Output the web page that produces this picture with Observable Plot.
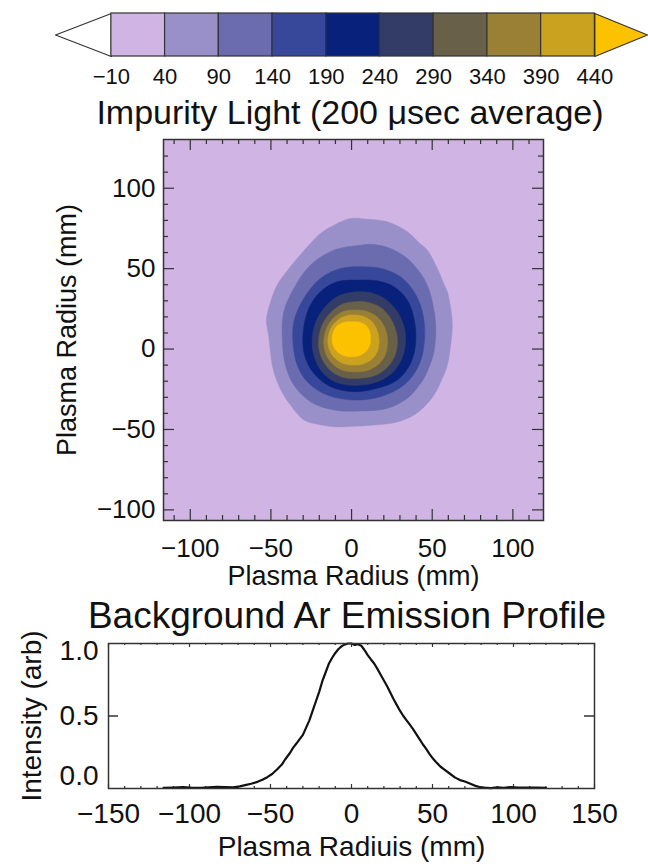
<!DOCTYPE html>
<html><head><meta charset="utf-8">
<script src="https://cdn.jsdelivr.net/npm/d3@7"></script>
<script src="https://cdn.jsdelivr.net/npm/@observablehq/plot@0.6"></script>
<style>
html,body{margin:0;padding:0;background:#fff;}
#root{position:relative;width:648px;height:867px;overflow:hidden;font-family:"Liberation Sans",Arial,Helvetica,sans-serif;color:#111;}
#root > div{position:absolute;}
.title{left:0;text-align:center;white-space:nowrap;}
</style></head>
<body><div id="root"></div>
<script>
// ---------- DATA ----------
const cbLevels = [-10, 40, 90, 140, 190, 240, 290, 340, 390, 440];
const bandColors = ["#d0b4e3", "#9a90c9", "#6b6cb0", "#37489a", "#08227b", "#333c66", "#686049", "#9a8034", "#caa21f", "#fcc200"];
const belowColor = "#ffffff";

// contour boundaries (mm), one polygon per threshold level
const contour40 = [[-0.6,81.2],[9.8,80.7],[22.2,79.1],[34.6,72.9],[42,66],[47,61.5],[53.2,50.1],[57.5,40],[59.4,35.6],[61.5,25],[62.5,14.9],[61.5,3],[59.4,-9.9],[55.5,-20],[51.1,-28.6],[45,-36],[38.7,-41],[31,-44.5],[24.2,-46.2],[9.8,-47.6],[-11,-48.3],[-22,-46.5],[-29.6,-44.1],[-37.9,-34.8],[-42.5,-28],[-46.1,-20.3],[-49,-11],[-50.3,-1.7],[-51.5,9],[-52.8,18],[-50,30],[-46.1,39.8],[-40,48.5],[-33.7,56.3],[-26.5,64.5],[-19.3,71.9],[-10,77.5]];
const contour90 = [[5.6,64.6],[13.9,65],[24.2,62.5],[34.6,56.3],[40.5,50],[44.9,43.9],[48,37],[50.1,29.4],[52.2,14.9],[51.1,-1.7],[48.5,-10],[44.9,-18.2],[40,-25],[34.6,-30.6],[22.2,-36.9],[5.6,-38.5],[-11,-37.9],[-25.5,-32.7],[-35.8,-22.4],[-41,-9.9],[-43,6.6],[-42,23.2],[-35.8,37.7],[-25.5,52.2],[-11,61.5]];
const contour140 = [[9.8,51.1],[20,49.7],[30.4,44.9],[38.7,35.6],[43.9,23.2],[45.3,6.6],[41.8,-9.9],[32.5,-22.4],[18,-29.6],[1.4,-31.7],[-15.1,-28.6],[-27.5,-20.3],[-33.7,-9.9],[-36.2,2.5],[-35.8,17],[-29.6,31.5],[-19.3,43.9],[-6.8,50.1]];
const contour190 = [[5.6,42.9],[16,42.4],[26.3,38.7],[34.6,30.4],[38.7,19.1],[39.8,4.5],[36.6,-8.9],[28.4,-19.3],[16,-24.4],[1.4,-26.5],[-13,-23.4],[-23.4,-15.1],[-29.2,-3.7],[-30,10.7],[-26.5,25.3],[-19.3,35.6],[-8.9,41.8]];
const contour240 = [[2,35.6],[12,35],[21,31],[28.5,23],[32.5,14],[33.5,5],[31.5,-5],[26.5,-13.5],[18,-19.5],[8,-22.2],[-2,-22.4],[-12,-19.5],[-19.5,-12.5],[-23.5,-3.5],[-24.4,6],[-22.5,16],[-17,25.5],[-9,32.5]];
const contour290 = [[2,29.4],[10.5,29],[18.5,25.5],[24.5,18.5],[27.8,10],[28.4,3],[26.5,-5],[22,-11.5],[14.5,-16.5],[5,-18.2],[-4,-17.8],[-11.5,-14.5],[-17,-8.5],[-20,-1],[-20.3,7],[-18,15.5],[-13,22.5],[-6,27.8]];
const contour340 = [[1,24.2],[8,23.8],[14.5,21],[19.5,15.5],[22,8.5],[22.2,2],[20.5,-4.5],[16,-10],[9,-13.5],[1,-14.1],[-6,-13],[-11.5,-9.5],[-15.5,-4],[-17.2,3],[-16.5,10],[-13.5,16.5],[-8.5,21.5],[-3.5,23.8]];
const contour390 = [[0.5,21.1],[6.5,20.6],[11.5,18],[15,13.5],[16.8,8],[17,3],[15.5,-2.5],[12,-6.8],[6.5,-9.4],[0.5,-9.9],[-5.5,-8.8],[-10.5,-5.5],[-13.5,-1],[-14.7,4.5],[-14,10],[-11.5,15],[-7,19],[-2.5,20.8]];
const contour440 = [[0,17],[5,16.6],[8.8,14.8],[11,11.5],[11.8,7],[11.2,2.2],[8.5,-1.8],[4.5,-4.2],[-0.5,-4.8],[-5,-4],[-9,-1.5],[-11.5,2.5],[-12,7],[-11,11.5],[-8.5,14.8],[-4.5,16.6]];

// background Ar emission profile
const profileX = [-116,-110,-104,-98,-93,-88,-83,-78,-73,-69,-65,-62,-58,-55,-52,-49,-46,-43,-41,-38,-36,-34,-32,-30,-28,-26,-24,-22,-20,-18,-16,-14,-12,-10,-8,-6,-4,-2,0,2,4,6,8,10,12,14,16,18,20,22,24,26,28,30,32,34,36,38,40,42,44,46,48,50,52,55,58,61,64,67,70,73,76,79,82,86,90,94,98,103,108,114,120];
const profileY = [0.004,0.006,0.009,0.005,0.004,0.008,0.011,0.009,0.008,0.015,0.025,0.033,0.046,0.06,0.078,0.1,0.131,0.165,0.2,0.245,0.282,0.31,0.34,0.37,0.42,0.47,0.535,0.6,0.665,0.74,0.8,0.86,0.9,0.935,0.962,0.982,0.994,1.0,1.0,0.99,0.995,0.985,0.955,0.92,0.89,0.862,0.825,0.785,0.745,0.705,0.66,0.615,0.575,0.535,0.5,0.47,0.44,0.41,0.375,0.34,0.305,0.275,0.24,0.21,0.185,0.15,0.125,0.1,0.075,0.058,0.048,0.035,0.02,0.01,0.006,0.003,0.008,0.005,0.009,0.007,0.006,0.007,0.005];

// tick labels
const mapTicks = [-100, -50, 0, 50, 100];
const profXTicks = [-150, -100, -50, 0, 50, 100, 150];
const profYTicks = [0, 0.5, 1.0];

const titleTop = "Impurity Light (200 \u03bcsec average)";
const titleBottom = "Background Ar Emission Profile";
const mapXLabel = "Plasma Radius (mm)";
const mapYLabel = "Plasma Radius (mm)";
const profXLabel = "Plasma Radiuis (mm)";
const profYLabel = "Intensity (arb)";

// ---------- RENDER ----------
const FONT = '"Liberation Sans", Arial, Helvetica, sans-serif';
const INK = "#333";
const root = document.getElementById("root");
function place(node, top, left = 0) {
  const d = document.createElement("div");
  d.style.top = top + "px"; d.style.left = left + "px";
  d.appendChild(node); root.appendChild(d); return d;
}
function addTitle(text, top, size, center) {
  const d = document.createElement("div");
  d.className = "title"; d.style.top = top + "px"; d.textContent = text;
  d.style.width = (2 * center) + "px";
  d.style.fontSize = size + "px"; d.style.lineHeight = size + "px";
  root.appendChild(d);
}
const baseStyle = {fontFamily: FONT, background: "transparent", color: "#111", overflow: "visible"};

// colorbar
{
  const cells = cbLevels.slice(0, -1).map((lo, i) => ({lo, hi: cbLevels[i + 1], color: bandColors[i]}));
  const lo = cbLevels[0], hi = cbLevels[cbLevels.length - 1];
  const leftTri = [{x: lo, y: 1}, {x: lo - 52, y: 0.5}, {x: lo, y: 0}];
  const rightTri = [{x: hi, y: 1}, {x: hi + 49, y: 0.5}, {x: hi, y: 0}];
  const svg = Plot.plot({
    width: 648, height: 92, marginTop: 13, marginBottom: 36, marginLeft: 55, marginRight: 1,
    x: {domain: [lo - 52, hi + 49], axis: null},
    y: {domain: [0, 1], axis: null},
    style: {...baseStyle, fontSize: "22px"},
    marks: [
      Plot.line(leftTri, {x: "x", y: "y", fill: belowColor, stroke: INK, strokeWidth: 1.2, curve: "linear-closed"}),
      Plot.line(rightTri, {x: "x", y: "y", fill: bandColors[9], stroke: INK, strokeWidth: 1.2, curve: "linear-closed"}),
      Plot.rect(cells, {x1: "lo", x2: "hi", y1: 0, y2: 1, fill: "color", stroke: INK, strokeWidth: 1.2}),
      Plot.axisX(cbLevels, {anchor: "bottom", tickSize: 0, tickPadding: 12, fontSize: 22, label: null})
    ]
  });
  place(svg, 0);
}

addTitle(titleTop, 95, 34, 350);

// contour map
{
  const xd = [-116.6, 119], yd = [-106.6, 130.3];
  const W = 648, H = 470, mT = 9, mB = 80, mL = 163, mR = 105;
  const kx = (xd[1] - xd[0]) / (W - mL - mR), ky = (yd[1] - yd[0]) / (H - mT - mB);
  const levels = [contour40, contour90, contour140, contour190, contour240, contour290, contour340, contour390, contour440];
  const polys = levels.map((pts, i) => Plot.line(pts, {x: d => d[0], y: d => d[1], fill: bandColors[i + 1], stroke: bandColors[i + 1], strokeWidth: 0.5, curve: "catmull-rom-closed"}));
  const minorX = d3.range(-110, 111, 10).filter(v => v % 50 !== 0);
  const minorY = d3.range(-100, 131, 10).filter(v => v % 50 !== 0 && v <= 120);
  const tickMarks = (vals, len) => [
    Plot.ruleX(vals, {x: d => d, y1: yd[0], y2: yd[0] + len * ky, stroke: INK, strokeWidth: 1.2}),
    Plot.ruleX(vals, {x: d => d, y1: yd[1], y2: yd[1] - len * ky, stroke: INK, strokeWidth: 1.2})
  ];
  const tickMarksY = (vals, len) => [
    Plot.ruleY(vals, {y: d => d, x1: xd[0], x2: xd[0] + len * kx, stroke: INK, strokeWidth: 1.2}),
    Plot.ruleY(vals, {y: d => d, x1: xd[1], x2: xd[1] - len * kx, stroke: INK, strokeWidth: 1.2})
  ];
  const svg = Plot.plot({
    width: W, height: H, marginTop: mT, marginBottom: mB, marginLeft: mL, marginRight: mR,
    x: {domain: xd, axis: null}, y: {domain: yd, axis: null},
    style: {...baseStyle, fontSize: "26px"},
    marks: [
      Plot.frame({fill: bandColors[0], stroke: "none"}),
      ...polys,
      ...tickMarks(mapTicks, 11), ...tickMarks(minorX, 5),
      ...tickMarksY(mapTicks, 11), ...tickMarksY(minorY, 5),
      Plot.frame({stroke: INK, strokeWidth: 1.5}),
      Plot.axisX(mapTicks, {anchor: "bottom", tickSize: 0, tickPadding: 18, fontSize: 26, label: null}),
      Plot.axisY(mapTicks, {anchor: "left", tickSize: 0, tickPadding: 8, fontSize: 26, label: null}),
      Plot.text([mapXLabel], {text: d => d, frameAnchor: "bottom", dy: 64, lineAnchor: "bottom", textAnchor: "middle", fontSize: 27}),
      Plot.text([mapYLabel], {text: d => d, frameAnchor: "left", dx: -88, rotate: -90, lineAnchor: "bottom", textAnchor: "middle", fontSize: 27})
    ]
  });
  place(svg, 130);
}

addTitle(titleBottom, 597, 37, 347);

// profile
{
  const xd = [-150, 150], yd = [0, 1];
  const W = 648, H = 237, mT = 13, mB = 79, mL = 108, mR = 54;
  const kx = (xd[1] - xd[0]) / (W - mL - mR), ky = (yd[1] - yd[0]) / (H - mT - mB);
  const profile = profileX.map((x, i) => ({x, y: profileY[i]}));
  const minorX = d3.range(-140, 141, 10).filter(v => v % 50 !== 0);
  const fmt = d3.format(".1f");
  const yLab = (v, dy) => Plot.text([v], {x: xd[0], y: d => d, text: d => fmt(d), dx: -10, dy, textAnchor: "end", fontSize: 28});
  const svg = Plot.plot({
    width: W, height: H, marginTop: mT, marginBottom: mB, marginLeft: mL, marginRight: mR,
    x: {domain: xd, axis: null}, y: {domain: yd, axis: null},
    style: {...baseStyle, fontSize: "28px"},
    marks: [
      Plot.ruleX(profXTicks, {x: d => d, y1: yd[0], y2: yd[0] + 4 * ky, stroke: INK, strokeWidth: 1.2}),
      Plot.ruleX(profXTicks, {x: d => d, y1: yd[1], y2: yd[1] - 4 * ky, stroke: INK, strokeWidth: 1.2}),
      Plot.ruleX(minorX, {x: d => d, y1: yd[0], y2: yd[0] + 2 * ky, stroke: INK, strokeWidth: 1.2}),
      Plot.ruleX(minorX, {x: d => d, y1: yd[1], y2: yd[1] - 2 * ky, stroke: INK, strokeWidth: 1.2}),
      Plot.ruleY([0.5], {y: d => d, x1: xd[0], x2: xd[0] + 10 * kx, stroke: INK, strokeWidth: 1.5}),
      Plot.ruleY([0.5], {y: d => d, x1: xd[1], x2: xd[1] - 10 * kx, stroke: INK, strokeWidth: 1.5}),
      Plot.line(profile, {x: "x", y: "y", stroke: "#111", strokeWidth: 2.2}),
      Plot.frame({stroke: INK, strokeWidth: 1.5}),
      Plot.axisX(profXTicks, {anchor: "bottom", tickSize: 0, tickPadding: 15, fontSize: 28, label: null}),
      yLab(profYTicks[2], 8), yLab(profYTicks[1], 0), yLab(profYTicks[0], -12),
      Plot.text([profXLabel], {text: d => d, frameAnchor: "bottom", dy: 67, lineAnchor: "bottom", textAnchor: "middle", fontSize: 28}),
      Plot.text([profYLabel], {text: d => d, frameAnchor: "left", dx: -68, rotate: -90, lineAnchor: "bottom", textAnchor: "middle", fontSize: 28})
    ]
  });
  place(svg, 630);
}
</script>
</body></html>
